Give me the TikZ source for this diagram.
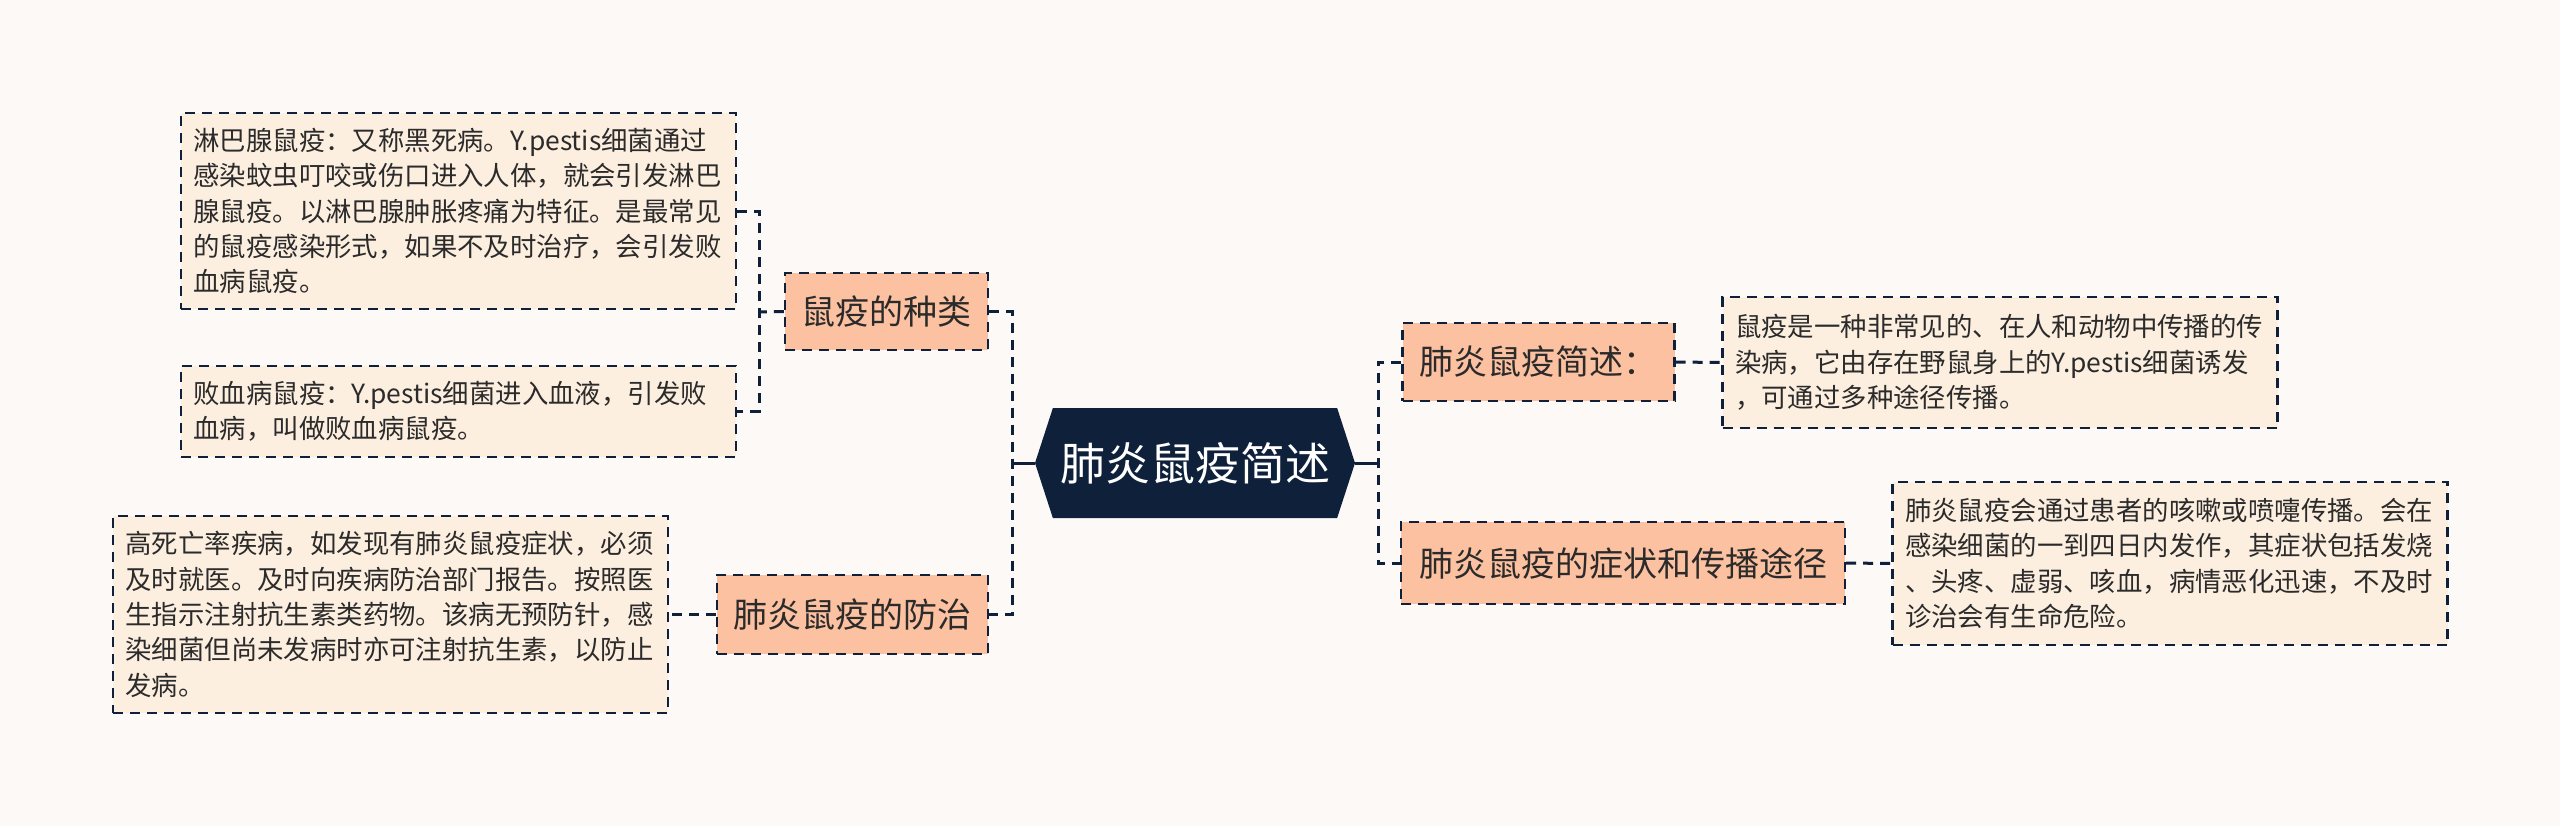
\documentclass[tikz,border=0pt]{standalone}
\usepackage{fontspec}
\usepackage{tikz}
\usetikzlibrary{shapes.symbols}
\newfontfamily\cjk{Noto Sans CJK SC}
\definecolor{bgpaper}{rgb}{0.992,0.976,0.969}
\definecolor{leafpeach}{rgb}{0.992,0.937,0.878}
\definecolor{midsalmon}{rgb}{0.988,0.757,0.627}
\definecolor{navy}{rgb}{0.059,0.125,0.231}
\definecolor{inkgray}{rgb}{0.17,0.17,0.17}

\begin{document}
\begin{tikzpicture}[line join=miter,x=0.5pt,y=-0.5pt,
  dashbox/.style={draw=navy,line width=1.2pt,dash pattern=on 5pt off 3.5pt},
  leaf/.style={dashbox,fill=leafpeach,text=inkgray,font=\cjk\fontsize{13.2pt}{17.7pt}\selectfont,align=left,text width=265pt,inner xsep=6.25pt,inner ysep=0pt},
  topic/.style={dashbox,fill=midsalmon,text=inkgray,font=\cjk\fontsize{17pt}{20pt}\selectfont,inner sep=0pt},
  link/.style={draw=navy,line width=1.5pt,dash pattern=on 5pt off 3.5pt},
  stub/.style={draw=navy,line width=1.5pt}]
\fill[bgpaper] (0,0) rectangle (2560,826);
\useasboundingbox (0,0) rectangle (2560,826);
\node[signal,signal to=east and west,signal pointer angle=144,fill=navy,text=white,font=\cjk\fontsize{22.5pt}{26pt}\selectfont,minimum width=160pt,minimum height=55pt,inner sep=0pt] (root) at (1195,463) {肺炎鼠疫简述};
\node[topic,minimum width=101.5pt,minimum height=38.5pt] (kinds) at (886.5,311.5) {鼠疫的种类};
\node[topic,minimum width=135.5pt,minimum height=39.5pt] (cure) at (852.5,614.5) {肺炎鼠疫的防治};
\node[topic,minimum width=136pt,minimum height=39pt] (brief) at (1538.5,362) {肺炎鼠疫简述：};
\node[topic,minimum width=222pt,minimum height=41pt] (route) at (1623,563) {肺炎鼠疫的症状和传播途径};
\node[leaf,minimum height=98pt] (bubo) at (458.5,211) {淋巴腺鼠疫：又称黑死病。Y.pestis细菌通过\\感染蚊虫叮咬或伤口进入人体，就会引发淋巴\\腺鼠疫。以淋巴腺肿胀疼痛为特征。是最常见\\的鼠疫感染形式，如果不及时治疗，会引发败\\血病鼠疫。};
\node[leaf,minimum height=45.5pt] (septic) at (458.5,411.5) {败血病鼠疫：Y.pestis细菌进入血液，引发败\\血病，叫做败血病鼠疫。};
\node[leaf,minimum height=98.5pt] (cureleaf) at (390.5,614.5) {高死亡率疾病，如发现有肺炎鼠疫症状，必须\\及时就医。及时向疾病防治部门报告。按照医\\生指示注射抗生素类药物。该病无预防针，感\\染细菌但尚未发病时亦可注射抗生素，以防止\\发病。};
\node[leaf,minimum height=65.5pt] (briefleaf) at (2000,362.5) {鼠疫是一种非常见的、在人和动物中传播的传\\染病，它由存在野鼠身上的Y.pestis细菌诱发\\，可通过多种途径传播。};
\node[leaf,minimum height=81.5pt] (routeleaf) at (2170,563.5) {肺炎鼠疫会通过患者的咳嗽或喷嚏传播。会在\\感染细菌的一到四日内发作，其症状包括发烧\\、头疼、虚弱、咳血，病情恶化迅速，不及时\\诊治会有生命危险。};
\coordinate (lj) at (1012,463);
\coordinate (rj) at (1378,463);
\coordinate (kj) at (759,312);
\draw[stub] (root.west) -- (lj);
\draw[stub] (root.east) -- (rj);
\draw[link] (kinds.east) -- (kinds.east -| lj) -- (cure.east -| lj) -- (cure.east);
\draw[link] (kinds.west) -- (kj);
\draw[link] (bubo.east) -- (bubo.east -| kj) -- (septic.east -| kj) -- (septic.east);
\draw[link] (cure.west) -- (cureleaf.east);
\draw[link] (brief.west) -- (brief.west -| rj) -- (route.west -| rj) -- (route.west);
\draw[link] (brief.east) -- (briefleaf.west);
\draw[link] (route.east) -- (routeleaf.west);
\end{tikzpicture}
\end{document}
